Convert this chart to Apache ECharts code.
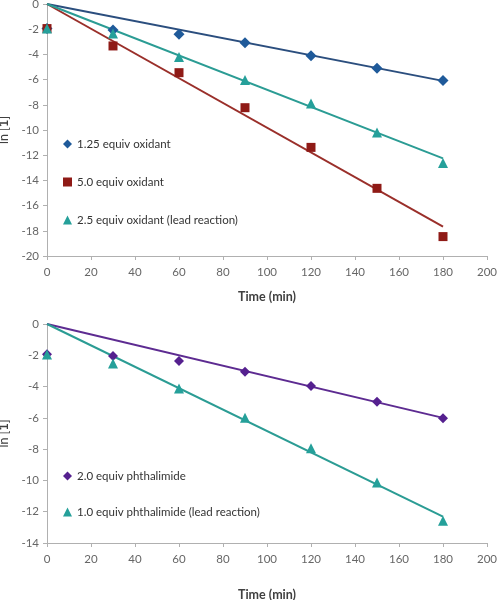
<!DOCTYPE html>
<html><head><meta charset="utf-8">
<script src="https://cdn.jsdelivr.net/npm/echarts@6/dist/echarts.min.js"></script>
<style>html,body{margin:0;padding:0;background:#fff}#c{width:498px;height:600px}</style>
</head><body><div id="c"></div>
<script>
// Data
const times = [0, 30, 60, 90, 120, 150, 180];
const xTicks = [0, 20, 40, 60, 80, 100, 120, 140, 160, 180, 200];
// Top chart
const oxid125 = [-1.95, -2.06, -2.4, -3.07, -4.1, -5.1, -6.08];
const oxid50 = [-1.95, -3.33, -5.45, -8.23, -11.38, -14.63, -18.46];
const oxid25 = [-1.95, -2.35, -4.2, -6.03, -7.9, -10.2, -12.62];
const fit125 = [[0, 0], [180, -6.1]];
const fit50 = [[0, 0], [180, -17.67]];
const fit25 = [[0, 0], [180, -12.25]];
// Bottom chart
const phth20 = [-1.94, -2.05, -2.37, -3.05, -3.97, -4.97, -6.02];
const phth10 = [-1.95, -2.52, -4.12, -6.0, -7.95, -10.13, -12.58];
const fitP20 = [[0, 0], [180, -6.0]];
const fitP10 = [[0, 0], [180, -12.32]];

const names = {
  a: '1.25 equiv oxidant', b: '5.0 equiv oxidant', c: '2.5 equiv oxidant (lead reaction)',
  d: '2.0 equiv phthalimide', e: '1.0 equiv phthalimide (lead reaction)'
};
const col = { blue: '#1f5a9a', blueLine: '#2b4e7e', red: '#8f1a16', redLine: '#9a2f2a',
  teal: '#25a09a', tealLine: '#2b9c94', purple: '#55208f', purpleLine: '#5d2b91' };

const pts = arr => times.map((t, i) => [t, arr[i]]);
const FONT = 'Lato';
const axisGrey = '#b0b0b0';
function xAxis(gi) {
  return {
    gridIndex: gi, type: 'value', min: 0, max: 200, interval: 20,
    name: 'Time (min)', nameLocation: 'middle', nameGap: gi === 0 ? 34 : 45,
    nameTextStyle: { fontFamily: FONT, fontSize: 12.5, fontWeight: 'bold', color: '#404040' },
    axisLine: { onZero: false, lineStyle: { color: axisGrey, width: 1 } },
    axisTick: { show: true, inside: false, length: 4, lineStyle: { color: axisGrey } },
    axisLabel: { fontFamily: FONT, fontSize: 11.5, color: '#666', margin: 10,
      formatter: v => xTicks.includes(v) ? String(v) : '' },
    splitLine: { show: false }
  };
}
function yAxis(gi, min) {
  return {
    gridIndex: gi, type: 'value', min: min, max: 0, interval: 2,
    name: 'ln [{b|1}]', nameLocation: 'middle', nameRotate: 90, nameGap: 31,
    nameTextStyle: { fontFamily: FONT, fontSize: 12.5, color: '#404040',
      rich: { b: { fontFamily: FONT, fontSize: 12.5, fontWeight: 'bold', color: '#404040' } } },
    axisLine: { show: true, onZero: false, lineStyle: { color: axisGrey, width: 1 } },
    axisTick: { show: true, inside: false, length: 4, lineStyle: { color: axisGrey } },
    axisLabel: { fontFamily: FONT, fontSize: 11.5, color: '#666', margin: 8 },
    splitLine: { show: false }
  };
}
function fitLine(gi, data, color) {
  return { type: 'line', xAxisIndex: gi, yAxisIndex: gi, data: data, symbol: 'none',
    lineStyle: { color: color, width: 2 }, silent: true, z: 2 };
}
function scat(gi, name, data, symbol, size, color) {
  return { type: 'scatter', name: name, xAxisIndex: gi, yAxisIndex: gi, data: pts(data),
    symbol: symbol, symbolSize: size, itemStyle: { color: color, opacity: 1 }, z: 3 };
}

const option = {
  animation: false,
  backgroundColor: '#fff',
  grid: [
    { left: 47, right: 11, top: 4, height: 252, containLabel: false, outerBoundsMode: 'none' },
    { left: 47, right: 11, top: 324, height: 219, containLabel: false, outerBoundsMode: 'none' }
  ],
  xAxis: [xAxis(0), xAxis(1)],
  yAxis: [yAxis(0, -20), yAxis(1, -14)],
  legend: [
    { data: [names.a, names.b, names.c], orient: 'vertical', left: 63, top: 138, itemGap: 26,
      itemWidth: 9, itemHeight: 9, textStyle: { fontFamily: FONT, fontSize: 11.5, color: '#333' }, padding: 0 },
    { data: [names.d, names.e], orient: 'vertical', left: 63, top: 470, itemGap: 24,
      itemWidth: 9, itemHeight: 9, textStyle: { fontFamily: FONT, fontSize: 11.5, color: '#333' }, padding: 0 }
  ],
  series: [
    fitLine(0, fit125, col.blueLine),
    fitLine(0, fit50, col.redLine),
    fitLine(0, fit25, col.tealLine),
    scat(0, names.a, oxid125, 'diamond', 11, col.blue),
    scat(0, names.b, oxid50, 'rect', 9, col.red),
    scat(0, names.c, oxid25, 'triangle', 10, col.teal),
    fitLine(1, fitP20, col.purpleLine),
    fitLine(1, fitP10, col.tealLine),
    scat(1, names.d, phth20, 'diamond', 10, col.purple),
    scat(1, names.e, phth10, 'triangle', 10, col.teal)
  ]
};
echarts.init(document.getElementById('c'), null, { renderer: 'canvas' }).setOption(option);
</script></body></html>
